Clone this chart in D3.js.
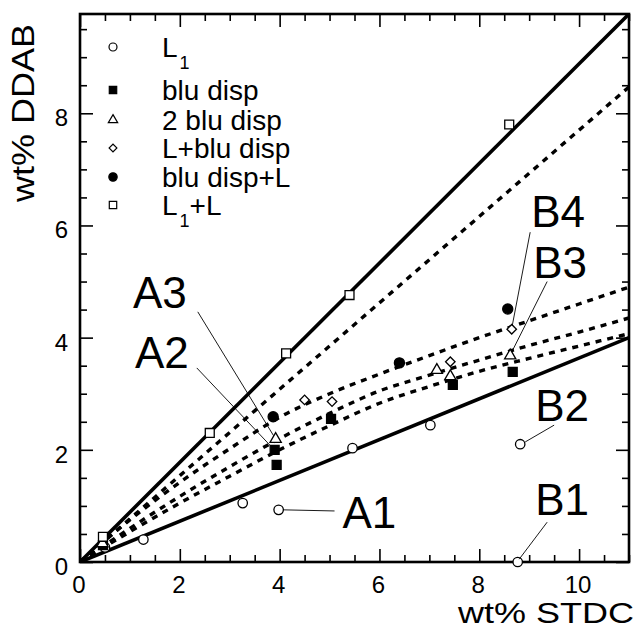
<!DOCTYPE html>
<html>
<head>
<meta charset="utf-8">
<script src="https://cdn.jsdelivr.net/npm/d3@7"></script>
<style>
  html, body { margin: 0; padding: 0; background: #fff; }
  svg { display: block; font-family: "Liberation Sans", Arial, Helvetica, sans-serif; }
</style>
</head>
<body>
<svg id="chart" width="639" height="630"></svg>
<script>
// ---------- data ----------
const xTickLabels = [0, 2, 4, 6, 8, 10];
const yTickLabels = [0, 2, 4, 6, 8];
const xMinorTicks = [0,0.5,1,1.5,2,2.5,3,3.5,4,4.5,5,5.5,6,6.5,7,7.5,8,8.5,9,9.5,10,10.5,11];
const yMinorTicks = [0,0.5,1,1.5,2,2.5,3,3.5,4,4.5,5,5.5,6,6.5,7,7.5,8,8.5,9,9.5];

const legendLabels = ["L1", "blu disp", "2 blu disp", "L+blu disp", "blu disp+L", "L1+L"];

// series points [STDC, DDAB]
const seriesL1 = [[0.5,0.26],[1.27,0.40],[3.26,1.05],[3.98,0.93],[5.46,2.03],[7.02,2.44],[8.82,2.10],[8.77,0.0]];
const seriesBluDisp = [[0.46,0.30],[3.90,2.00],[3.94,1.73],[5.03,2.55],[7.47,3.16],[8.67,3.39]];
const series2BluDisp = [[0.45,0.33],[3.92,2.19],[7.15,3.42],[7.42,3.31],[8.62,3.68]];
const seriesLBluDisp = [[4.50,2.89],[5.05,2.86],[7.42,3.57],[8.65,4.15]];
const seriesBluDispL = [[3.87,2.59],[6.40,3.55],[8.57,4.51]];
const seriesL1L = [[0.46,0.45],[2.60,2.30],[4.13,3.72],[5.40,4.76],[8.60,7.80]];

// boundary lines and curves [STDC, DDAB]
const lineUpper = [[0,0],[11,9.77]];
const lineLower = [[0,0],[11,4.00]];
const lineDottedStraight = [[0,0],[11,8.47]];
const curveTop = [[0,0],[1,0.75],[2,1.42],[3,2.02],[4,2.58],[5,3.0],[6,3.35],[7,3.68],[8,4.0],[9,4.3],[10,4.6],[11,4.9]];
const curveMid = [[0,0],[1,0.6],[2,1.17],[3,1.7],[4,2.2],[5,2.65],[6,3.05],[7,3.33],[8,3.6],[9,3.86],[10,4.1],[11,4.35]];
const curveLow = [[0,0],[1,0.54],[2,1.05],[3,1.53],[4,2.0],[5,2.43],[6,2.83],[7,3.13],[8,3.4],[9,3.63],[10,3.85],[11,4.07]];

// annotation labels
const annotationLabels = ["A3", "A2", "A1", "B1", "B2", "B3", "B4"];

// ---------- layout ----------
const svg = d3.select("#chart");
svg.append("rect").attr("width", 639).attr("height", 630).attr("fill", "#fff");

const x = d3.scaleLinear().domain([0, 11]).range([80, 629]);
const y = d3.scaleLinear().domain([0, 9.77]).range([562, 14]);

// annotation layout: text anchor (data coords) and leader line (data coords)
const annLayout = {
  A3: {tx: 1.06, ty: 4.53, l: [[2.36,4.46],[3.88,2.25]]},
  A2: {tx: 1.10, ty: 3.46, l: [[2.34,3.46],[3.84,2.05]]},
  A1: {tx: 5.26, ty: 0.61, l: [[4.07,0.93],[5.10,0.91]]},
  B1: {tx: 9.12, ty: 0.84, l: [[8.80,0.05],[9.36,0.71]]},
  B2: {tx: 9.12, ty: 2.51, l: [[8.92,2.14],[9.50,2.44]]},
  B3: {tx: 9.08, ty: 5.06, l: [[8.66,3.76],[9.36,5.0]]},
  B4: {tx: 9.04, ty: 5.97, l: [[8.66,4.21],[9.02,5.88]]}
};

const g = svg.append("g");

// ---------- axes (inward ticks) ----------
function styleAxis(sel) {
  sel.select(".domain").remove();
  sel.selectAll("line").attr("stroke", "#000").attr("stroke-width", 1.6);
  sel.selectAll("text").attr("fill", "#000").attr("font-size", 24)
     .attr("font-family", "Liberation Sans, Arial, sans-serif");
}
const majorX = v => xTickLabels.includes(v);
const majorY = v => yTickLabels.includes(v);

// bottom
g.append("g").attr("transform", `translate(0,${y(0)})`)
  .call(d3.axisBottom(x).tickValues(xMinorTicks.filter(v => !majorX(v))).tickSize(-7).tickFormat(""))
  .call(styleAxis);
const bx = g.append("g").attr("transform", `translate(0,${y(0)})`)
  .call(d3.axisBottom(x).tickValues(xTickLabels).tickSize(-13).tickPadding(14).tickFormat(d3.format("d")))
  .call(styleAxis);
bx.selectAll("text").attr("dx", -1.5);
// top
g.append("g").attr("transform", `translate(0,${y(9.77)})`)
  .call(d3.axisTop(x).tickValues(xMinorTicks.filter(v => !majorX(v))).tickSize(-7).tickFormat(""))
  .call(styleAxis);
g.append("g").attr("transform", `translate(0,${y(9.77)})`)
  .call(d3.axisTop(x).tickValues(xTickLabels).tickSize(-13).tickFormat(""))
  .call(styleAxis);
// left
g.append("g").attr("transform", `translate(${x(0)},0)`)
  .call(d3.axisLeft(y).tickValues(yMinorTicks.filter(v => !majorY(v))).tickSize(-7).tickFormat(""))
  .call(styleAxis);
const ly = g.append("g").attr("transform", `translate(${x(0)},0)`)
  .call(d3.axisLeft(y).tickValues(yTickLabels).tickSize(-13).tickPadding(12).tickFormat(d3.format("d")))
  .call(styleAxis);
ly.selectAll("text").attr("dy", "0.52em");
// right
g.append("g").attr("transform", `translate(${x(11)},0)`)
  .call(d3.axisRight(y).tickValues(yMinorTicks.filter(v => !majorY(v))).tickSize(-7).tickFormat(""))
  .call(styleAxis);
g.append("g").attr("transform", `translate(${x(11)},0)`)
  .call(d3.axisRight(y).tickValues(yTickLabels).tickSize(-13).tickFormat(""))
  .call(styleAxis);

// frame
g.append("rect").attr("x", x(0)).attr("y", y(9.77))
  .attr("width", x(11) - x(0)).attr("height", y(0) - y(9.77))
  .attr("fill", "none").attr("stroke", "#000").attr("stroke-width", 2.6);

// axis titles
svg.append("text").attr("x", 634).attr("y", 623).attr("text-anchor", "end")
  .attr("font-size", 29).attr("textLength", 176).attr("lengthAdjust", "spacingAndGlyphs")
  .text("wt% STDC");
svg.append("text").attr("transform", "translate(34,202) rotate(-90)")
  .attr("font-size", 31).attr("textLength", 178).attr("lengthAdjust", "spacingAndGlyphs")
  .text("wt% DDAB");

// ---------- lines ----------
svg.append("clipPath").attr("id", "plotclip").append("rect")
  .attr("x", x(0)).attr("y", y(9.77)).attr("width", x(11) - x(0)).attr("height", y(0) - y(9.77));
const plot = svg.append("g").attr("clip-path", "url(#plotclip)");
const lineGen = d3.line().x(d => x(d[0])).y(d => y(d[1]));
const curveGen = d3.line().x(d => x(d[0])).y(d => y(d[1])).curve(d3.curveMonotoneX);

[lineUpper, lineLower].forEach(d => {
  plot.append("path").datum(d).attr("d", lineGen).attr("fill", "none")
    .attr("stroke", "#000").attr("stroke-width", 3.6);
});
plot.append("path").datum(lineDottedStraight).attr("d", lineGen).attr("fill", "none")
  .attr("stroke", "#000").attr("stroke-width", 3.4).attr("stroke-dasharray", "6,6");
[curveTop, curveMid, curveLow].forEach(d => {
  plot.append("path").datum(d).attr("d", curveGen).attr("fill", "none")
    .attr("stroke", "#000").attr("stroke-width", 3.4).attr("stroke-dasharray", "6,6");
});

// ---------- symbols ----------
const symDefs = [
  {data: seriesL1,       type: d3.symbolCircle,   size: 70, fill: "#fff", rot: 0},
  {data: seriesBluDisp,  type: d3.symbolSquare,   size: 80, fill: "#000", rot: 0},
  {data: series2BluDisp, type: d3.symbolTriangle, size: 55, fill: "#fff", rot: 0},
  {data: seriesLBluDisp, type: d3.symbolSquare,   size: 45, fill: "#fff", rot: 45},
  {data: seriesBluDispL, type: d3.symbolCircle,   size: 80, fill: "#000", rot: 0},
  {data: seriesL1L,      type: d3.symbolSquare,   size: 80, fill: "#fff", rot: 0}
];
const symG = svg.append("g");
symDefs.forEach(s => {
  symG.selectAll(null).data(s.data).enter().append("path")
    .attr("d", d3.symbol().type(s.type).size(s.size))
    .attr("transform", d => `translate(${x(d[0])},${y(d[1])}) rotate(${s.rot})`)
    .attr("fill", s.fill).attr("stroke", "#000").attr("stroke-width", 1.3);
});

// ---------- annotations ----------
const annG = svg.append("g");
annotationLabels.forEach(k => {
  const a = annLayout[k];
  annG.append("path").datum(a.l).attr("d", lineGen).attr("fill", "none")
    .attr("stroke", "#000").attr("stroke-width", 0.9);
  annG.append("text").attr("x", x(a.tx)).attr("y", y(a.ty))
    .attr("font-size", 44).attr("fill", "#000").text(k);
});

// ---------- legend ----------
const legendBaselines = [57, 100, 130, 158, 187, 215];
const legG = svg.append("g");
const legSym = [
  {type: d3.symbolCircle, size: 50, fill: "#fff", rot: 0},
  {type: d3.symbolSquare, size: 55, fill: "#000", rot: 0},
  {type: d3.symbolTriangle, size: 38, fill: "#fff", rot: 0},
  {type: d3.symbolSquare, size: 30, fill: "#fff", rot: 45},
  {type: d3.symbolCircle, size: 55, fill: "#000", rot: 0},
  {type: d3.symbolSquare, size: 55, fill: "#fff", rot: 0}
];
legendLabels.forEach((lab, i) => {
  const b = legendBaselines[i];
  legG.append("path").attr("d", d3.symbol().type(legSym[i].type).size(legSym[i].size))
    .attr("transform", `translate(113,${b - 10}) rotate(${legSym[i].rot})`)
    .attr("fill", legSym[i].fill).attr("stroke", "#000").attr("stroke-width", 1.2);
  const t = legG.append("text").attr("x", 162).attr("y", b).attr("font-size", 28).attr("fill", "#000");
  if (lab.startsWith("L1")) {
    t.append("tspan").text("L");
    t.append("tspan").attr("font-size", 18).attr("dy", 12).attr("dx", 2).text("1");
    const rest = lab.slice(2);
    if (rest) t.append("tspan").attr("dy", -12).text(rest);
  } else {
    t.text(lab);
  }
});
</script>
</body>
</html>
